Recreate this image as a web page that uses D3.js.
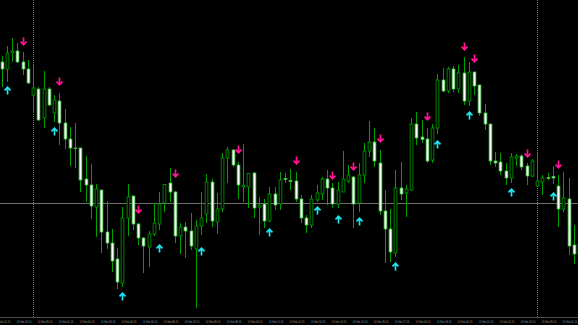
<!DOCTYPE html>
<html>
<head>
<meta charset="utf-8">
<script src="https://cdn.jsdelivr.net/npm/d3@7"></script>
<style>
  html, body { margin: 0; padding: 0; background: #000; }
  svg { display: block; }
</style>
</head>
<body>
<svg width="578" height="325"></svg>
<script>
// M15 candles, prices in points
var open  = [268,261,277.5,279,268,261,235,241,212,241,217,229,207,191,182,182,151,145,123,140,
             98,87,71,47,112,134,106,92,83,96,106,127,147,138,94,103,99,81,104,116,
             148,108,121,172,180,165,143,143,157,123,126,109,136,126,151.5,149.5,149,131,112,105,
             130,136,151,142,126,138,149,153,127,155,179,188,167,119,101,77,142,137,140,206,
             193,191,170,202,250,239,261,241,257,229,258,245,217,206,169,168,159,152,172,174,
             164,154,144,148,152.5,153.5,144,121,131,85,75];
var high  = [274,284,292,287,278,270,265,243,259,243,235,237,221,203,207,182,174,166,146,140,
             129,101,82,123,146,134,107,93,99,127,138,146,162,139,107,108,117,110,138,156,
             151,137,177,183,181,168,186,157,158,133,131,143,143,158,157,161,158,135,115,135,
             145,153,160,147,148,179,165,154,167,187,209,202,180,140,121,160,168,145,212,218,
             210,202,206,256,262,263,264,265,273,268,258,245,226,206,178,177,167,177,176,176,
             167,171,177,155,157,164,155,158,152,105,90];
var low   = [243,248,268,267,255,246,217,209,202,224,208,185,181,164,162,138,128,111,93,77,
             81,58,41,43,94,100,85,57,63,94,100,118,128,87,76,72,80,22,95,107,
             103,96,118,147,163,131,128,122,112,95,102,108,120,120,147,140,128,107,97,102,
             128,130,125,122,122,138,147,102,118,147,173,163,115,67,68,73,130,113,139,185,
             187,167,167,196,238,237,238,237,225,224,235,214,200,165,163,155,145,147,164,160,
             145,153,143,135,150,146,103,118,75,66,68];
var close = [261,277,279,268,261,247,242,210,241,225,230,207,191,182,181.5,150,145,124,141,98,
             87,69,48,112,133,106,92,84,96,107,126,145.5,138,94,103,99,84,104,112,148,
             109,121,172,180,165,145,144.5,156.5,122,125,109,136,125,150,150.5,148.5,131,112,105,131,
             137,151,142,126,140,151,155,126,155,179,188,169,119,101,78,142,136,141,206,192,
             190.5,169,202,250,239,261,241,257,229,258,244,217,206,169,167,159,152,173,174,163,
             154,169,149,152,151.5,152,121,132,84,76,86];

// signal arrows: candle index and level of the arrow tip
var sellIdx   = [4,11,26,33,45,56,63,67,72,81,88,90,100,106];
var sellLevel = [285,245,117,153,177,166,151,160,188,210,280,268,173,162];
var buyIdx    = [1,10,23,30,38,51,60,64,68,75,83,89,97,105];
var buyLevel  = [243,202,37,85,82,101,123,114,112,67,189,218,141,137];

var hLineLevel = 127;          // horizontal price line
var separatorIdx = [6, 102];   // day separators

var labelIdx = [-1,3,7,11,15,19,23,27,31,35,39,43,47,51,55,59,63,67,71,75,79,83,87,91,95,99,103,107];
var labelText = ["13 Feb 22:15","13 Feb 23:15","14 Feb 00:15","14 Feb 01:15","14 Feb 02:15","14 Feb 03:15",
                 "14 Feb 04:15","14 Feb 05:15","14 Feb 06:15","14 Feb 07:15","14 Feb 08:15","14 Feb 09:15",
                 "14 Feb 10:15","14 Feb 11:15","14 Feb 12:15","14 Feb 13:15","14 Feb 14:15","14 Feb 15:15",
                 "14 Feb 16:15","14 Feb 17:15","14 Feb 18:15","14 Feb 19:15","14 Feb 20:15","14 Feb 21:15",
                 "14 Feb 22:15","14 Feb 23:15","15 Feb 00:15","15 Feb 01:15"];

var svg = d3.select("svg"),
    width = +svg.attr("width"),
    height = +svg.attr("height"),
    axisY = 317.5,
    green = "#00a000",
    bodyW = 2.8;

var x = d3.scaleLinear().domain([0, 110]).range([1.5, 579]);
var y = d3.scaleLinear().domain([5, 330]).range([325, 0]);

svg.append("rect").attr("width", width).attr("height", height).attr("fill", "#000");

// grid objects behind the candles
svg.selectAll("line.sep")
    .data(separatorIdx)
    .enter().append("line")
    .attr("class", "sep")
    .attr("x1", function(d) { return Math.round(x(d)) + 0.5; })
    .attr("x2", function(d) { return Math.round(x(d)) + 0.5; })
    .attr("y1", 0).attr("y2", axisY)
    .attr("stroke", "#7a7a7a")
    .attr("stroke-dasharray", "1,1");

svg.append("line")
    .attr("x1", 0).attr("x2", width)
    .attr("y1", Math.round(y(hLineLevel)) + 0.5)
    .attr("y2", Math.round(y(hLineLevel)) + 0.5)
    .attr("stroke", "#6e6e6e");

var candles = d3.range(open.length);

var g = svg.append("g").attr("class", "candles");

// wicks
g.selectAll("line.wick")
    .data(candles)
    .enter().append("line")
    .attr("class", "wick")
    .attr("x1", function(i) { return Math.round(x(i)) + 0.5; })
    .attr("x2", function(i) { return Math.round(x(i)) + 0.5; })
    .attr("y1", function(i) { return y(high[i]); })
    .attr("y2", function(i) { return y(low[i]); })
    .attr("stroke", green)
    .attr("stroke-width", 1);

// bodies: bull = black with green border, bear = white
g.selectAll("rect.body")
    .data(candles)
    .enter().append("rect")
    .attr("class", "body")
    .attr("x", function(i) { return Math.round(x(i)) + 0.5 - bodyW / 2; })
    .attr("y", function(i) { return y(Math.max(open[i], close[i])); })
    .attr("width", bodyW)
    .attr("height", function(i) { return Math.max(0.6, Math.abs(y(open[i]) - y(close[i]))); })
    .attr("fill", function(i) { return close[i] > open[i] ? "#000" : "#ffffff"; })
    .attr("stroke", function(i) { return close[i] > open[i] ? green : "#3cbc3c"; })
    .attr("stroke-width", 0.8);

// arrows
var pink = "#ff1493", cyan = "#1ee4f2";

svg.selectAll("path.sell")
    .data(sellIdx)
    .enter().append("path")
    .attr("class", "sell")
    .attr("transform", function(d, k) { return "translate(" + (Math.round(x(d)) + 0.5) + "," + y(sellLevel[k]) + ")"; })
    .attr("d", "M0,-7.5V-0.8M-3,-3.3L0,-0.3L3,-3.3")
    .attr("fill", "none")
    .attr("stroke", pink)
    .attr("stroke-width", 1.7);

svg.selectAll("path.buy")
    .data(buyIdx)
    .enter().append("path")
    .attr("class", "buy")
    .attr("transform", function(d, k) { return "translate(" + (Math.round(x(d)) + 0.5) + "," + y(buyLevel[k]) + ")"; })
    .attr("d", "M0,7.5V0.8M-3,3.3L0,0.3L3,3.3")
    .attr("fill", "none")
    .attr("stroke", cyan)
    .attr("stroke-width", 1.7);

// time axis
svg.append("line")
    .attr("x1", 0).attr("x2", width)
    .attr("y1", axisY).attr("y2", axisY)
    .attr("stroke", "#4a4a4a");

var xAxis = d3.axisBottom(x)
    .tickValues(labelIdx)
    .tickSize(0)
    .tickPadding(0)
    .tickFormat(function(d, k) { return labelText[k]; });

var axisG = svg.append("g")
    .attr("transform", "translate(0," + axisY + ")")
    .call(xAxis);

axisG.select(".domain").remove();
// squeeze labels horizontally so they fit one hour (4 bars) each
axisG.selectAll(".tick text")
    .attr("y", 0)
    .attr("dy", 0)
    .attr("x", 0)
    .attr("transform", "translate(-1.2,5) scale(0.6,1)")
    .attr("text-anchor", "start")
    .attr("font-family", "DejaVu Sans")
    .attr("font-size", 3.8)
    .attr("fill", "#a0a0a0");
</script>
</body>
</html>
